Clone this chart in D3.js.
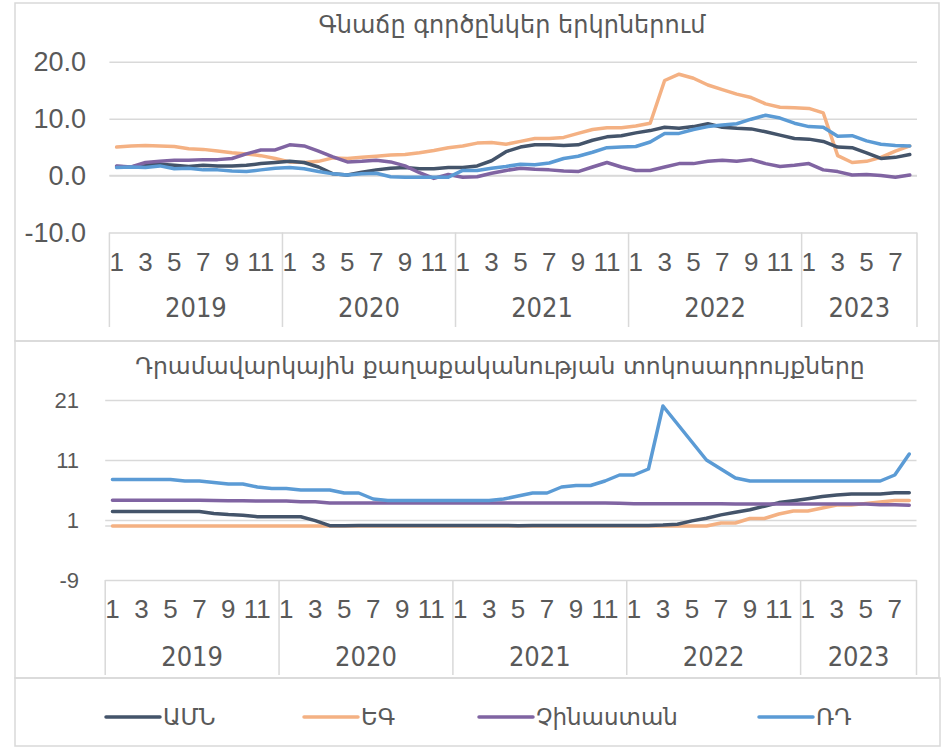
<!DOCTYPE html>
<html>
<head>
<meta charset="utf-8">
<script src="https://cdn.jsdelivr.net/npm/d3@7"></script>
<style>
body { margin: 0; background: #fff; }
text { font-family: "Liberation Sans Narrow", "DejaVu Sans Condensed", sans-serif; fill: #595959; }
.arm { font-family: "DejaVu Sans", sans-serif; }
</style>
</head>
<body>
<div id="chart"></div>
<script>
// categories
const years = ["2019", "2020", "2021", "2022", "2023"];
const monthsPerYear = [12, 12, 12, 12, 8];
const monthTicks = [1, 3, 5, 7, 9, 11];

const seriesNames = ["ԱՄՆ", "ԵԳ", "Չինաստան", "ՌԴ"];
const colors = ["#44546A", "#F4B183", "#8064A2", "#5B9BD5"];

// top panel: inflation
const inflTitle = "Գնաճը գործընկեր երկրներում";
const inflTicks = [-10, 0, 10, 20];
const inflUS = [1.6,1.5,1.9,2.0,1.8,1.6,1.8,1.7,1.7,1.8,2.1,2.3, 2.5,2.3,1.5,0.3,0.1,0.6,1.0,1.3,1.4,1.2,1.2,1.4,
  1.4,1.7,2.6,4.2,5.0,5.4,5.4,5.3,5.4,6.2,6.8,7.0, 7.5,7.9,8.5,8.3,8.6,9.1,8.5,8.3,8.2,7.7,7.1,6.5,
  6.4,6.0,5.0,4.9,4.0,3.0,3.2,3.7];
const inflEU = [5.0,5.2,5.3,5.2,5.1,4.7,4.6,4.3,4.0,3.8,3.5,3.0, 2.4,2.3,2.5,3.1,3.0,3.2,3.4,3.6,3.7,4.0,4.4,4.9,
  5.2,5.7,5.8,5.5,6.0,6.5,6.5,6.7,7.4,8.1,8.4,8.4, 8.7,9.2,16.7,17.8,17.1,15.9,15.1,14.3,13.7,12.6,12.0,11.9,
  11.8,11.0,3.5,2.3,2.5,3.2,4.3,5.2];
const inflCN = [1.7,1.5,2.3,2.5,2.7,2.7,2.8,2.8,3.0,3.8,4.5,4.5, 5.4,5.2,4.3,3.3,2.4,2.5,2.7,2.4,1.7,0.5,-0.5,0.2,
  -0.3,-0.2,0.4,0.9,1.3,1.1,1.0,0.8,0.7,1.5,2.3,1.5, 0.9,0.9,1.5,2.1,2.1,2.5,2.7,2.5,2.8,2.1,1.6,1.8,
  2.1,1.0,0.7,0.1,0.2,0.0,-0.3,0.1];
const inflRU = [1.4,1.5,1.4,1.7,1.2,1.3,1.0,1.0,0.8,0.7,1.0,1.3, 1.4,1.2,0.7,0.3,0.1,0.3,0.4,-0.2,-0.3,-0.3,-0.3,-0.3,
  0.9,0.9,1.3,1.6,2.0,1.9,2.2,3.0,3.4,4.1,4.9,5.0, 5.1,5.9,7.4,7.4,8.1,8.6,8.9,9.1,9.9,10.6,10.1,9.2,
  8.6,8.5,6.9,7.0,6.1,5.5,5.3,5.2];

// bottom panel: policy rates
const rateTitle = "Դրամավարկային քաղաքականության տոկոսադրույքները";
const rateTicks = [-9, 1, 11, 21];
const rateUS = [2.4,2.4,2.4,2.4,2.4,2.4,2.4,2.1,1.9,1.8,1.55,1.55, 1.55,1.55,0.9,0.05,0.05,0.08,0.09,0.1,0.09,0.09,0.09,0.09,
  0.09,0.08,0.07,0.07,0.06,0.08,0.1,0.09,0.08,0.08,0.08,0.08, 0.08,0.08,0.15,0.3,0.85,1.3,1.85,2.3,2.7,3.3,3.9,4.2,
  4.55,4.9,5.15,5.33,5.33,5.35,5.55,5.55];
const rateEU = [0,0,0,0,0,0,0,0,0,0,0,0, 0,0,0,0,0,0,0,0,0,0,0,0,
  0,0,0,0,0,0,0,0,0,0,0,0, 0,0,0,0,0,0,0.5,0.5,1.25,1.25,2.0,2.5,
  2.5,3.0,3.5,3.5,3.75,4.0,4.25,4.25];
const rateCN = [4.31,4.31,4.31,4.31,4.31,4.31,4.31,4.25,4.2,4.2,4.15,4.15, 4.15,4.05,4.05,3.85,3.85,3.85,3.85,3.85,3.85,3.85,3.85,3.85,
  3.85,3.85,3.85,3.85,3.85,3.85,3.85,3.85,3.85,3.85,3.85,3.8, 3.7,3.7,3.7,3.7,3.7,3.7,3.7,3.65,3.65,3.65,3.65,3.65,
  3.65,3.65,3.65,3.65,3.65,3.55,3.55,3.45];
const rateRU = [7.75,7.75,7.75,7.75,7.75,7.5,7.5,7.25,7.0,7.0,6.5,6.25, 6.25,6.0,6.0,6.0,5.5,5.5,4.5,4.25,4.25,4.25,4.25,4.25,
  4.25,4.25,4.25,4.5,5.0,5.5,5.5,6.5,6.75,6.75,7.5,8.5, 8.5,9.5,20,17,14,11,9.5,8,7.5,7.5,7.5,7.5,
  7.5,7.5,7.5,7.5,7.5,7.5,8.5,12];

const width = 944;
const height = 747;

// month index list built from the year groups
const cats = years.flatMap((y, yi) => d3.range(monthsPerYear[yi]).map(m => ({ year: y, month: m + 1 })));
cats.forEach((c, i) => c.i = i);

const hyphen = f => d => f(d).replace("−", "-");

const svg = d3.select("#chart")
    .append("svg")
    .attr("width", width)
    .attr("height", height);

function drawPanel(p) {
    const g = svg.append("g");

    // box
    g.append("rect")
        .attr("x", 15).attr("y", p.boxTop)
        .attr("width", 924).attr("height", p.boxBottom - p.boxTop)
        .attr("fill", "none").attr("stroke", "#d9d9d9").attr("stroke-width", 1.5);

    g.append("text")
        .attr("class", "arm")
        .attr("x", p.titleX).attr("y", p.titleY)
        .attr("text-anchor", "middle")
        .attr("dy", "0.35em")
        .attr("font-size", p.titleFont)
        .attr("fill", "#404040")
        .text(p.title);

    const x = d3.scaleBand()
        .domain(cats.map(c => c.i))
        .range([p.x0, p.x1]);

    const y = d3.scaleLinear()
        .domain(d3.extent(p.ticks))
        .range([p.yBottom, p.yTop]);

    // gridlines + y labels
    const yAxis = g.append("g")
        .attr("transform", `translate(${p.x0},0)`)
        .call(d3.axisLeft(y).tickValues(p.ticks).tickSize(-(p.x1 - p.x0)).tickPadding(p.x0 - p.yLabelX).tickFormat(p.fmt));
    yAxis.select(".domain").remove();
    yAxis.selectAll(".tick line").attr("stroke", "#d9d9d9").attr("stroke-width", 1.5);
    yAxis.selectAll(".tick text").attr("font-size", p.yFont).attr("fill", "#595959")
        .style("font-family", "'Liberation Sans Narrow', sans-serif");

    // horizontal axis line at zero
    g.append("line")
        .attr("x1", p.x0).attr("x2", p.x1)
        .attr("y1", y(0)).attr("y2", y(0))
        .attr("stroke", "#d9d9d9").attr("stroke-width", 1.5);

    // month labels
    const xAxis = g.append("g")
        .attr("transform", `translate(0,${p.monthY})`)
        .call(d3.axisBottom(x)
            .tickValues(cats.filter(c => monthTicks.includes(c.month)).map(c => c.i))
            .tickSize(0).tickPadding(0)
            .tickFormat(i => cats[i].month));
    xAxis.select(".domain").remove();
    xAxis.selectAll(".tick text").attr("dy", "0.35em").attr("y", 0)
        .attr("font-size", "26px").attr("fill", "#595959")
        .style("font-family", "'Liberation Sans Narrow', sans-serif");

    // year groups and separators
    let start = 0;
    const bounds = [];
    years.forEach((yr, yi) => {
        const end = start + monthsPerYear[yi];
        bounds.push({ year: yr, x0: x(start), x1: x(end - 1) + x.bandwidth() });
        start = end;
    });
    g.selectAll(".sep")
        .data([p.x0].concat(bounds.map(b => b.x1)))
        .join("line")
        .attr("x1", d => d).attr("x2", d => d)
        .attr("y1", p.yBottom).attr("y2", p.sepBottom)
        .attr("stroke", "#d9d9d9").attr("stroke-width", 1.5);
    g.selectAll(".yr")
        .data(bounds)
        .join("text")
        .attr("x", d => (d.x0 + d.x1) / 2)
        .attr("y", p.yearY)
        .attr("dy", "0.35em")
        .attr("text-anchor", "middle")
        .attr("font-size", "27px")
        .text(d => d.year);

    const line = d3.line()
        .x((d, i) => x(i) + x.bandwidth() / 2)
        .y(d => y(d));

    // draw order: EU, US, China, RU
    [1, 0, 2, 3].forEach(k => {
        g.append("path")
            .datum(p.series[k])
            .attr("d", line)
            .attr("fill", "none")
            .attr("stroke", colors[k])
            .attr("stroke-width", 3.5)
            .attr("stroke-linejoin", "round")
            .attr("stroke-linecap", "round");
    });
}

drawPanel({
    boxTop: 3, boxBottom: 341,
    title: inflTitle, titleX: 512, titleY: 25, titleFont: "24px",
    x0: 109.4, x1: 917,
    yTop: 61.7, yBottom: 232.5,
    ticks: inflTicks, fmt: hyphen(d3.format(".1f")), yFont: "27px", yLabelX: 86,
    monthY: 262, yearY: 308, sepBottom: 327,
    series: [inflUS, inflEU, inflCN, inflRU]
});

drawPanel({
    boxTop: 341, boxBottom: 678,
    title: rateTitle, titleX: 500, titleY: 366, titleFont: "23.5px",
    x0: 105.2, x1: 916.5,
    yTop: 400, yBottom: 580,
    ticks: rateTicks, fmt: hyphen(d3.format("d")), yFont: "22px", yLabelX: 79,
    monthY: 609, yearY: 657, sepBottom: 675,
    series: [rateUS, rateEU, rateCN, rateRU]
});

// legend
svg.append("rect")
    .attr("x", 15).attr("y", 678)
    .attr("width", 925).attr("height", 68)
    .attr("fill", "none").attr("stroke", "#d9d9d9").attr("stroke-width", 1.5);

const legendX = [106, 304, 479, 759];
const leg = svg.selectAll(".leg")
    .data(seriesNames)
    .join("g")
    .attr("transform", (d, i) => `translate(${legendX[i]},717)`);
leg.append("line")
    .attr("x1", 0).attr("x2", 54)
    .attr("stroke", (d, i) => colors[i])
    .attr("stroke-width", 3.5)
    .attr("stroke-linecap", "round");
leg.append("text")
    .attr("class", "arm")
    .attr("x", 57)
    .attr("dy", "0.35em")
    .attr("font-size", "23px")
    .attr("fill", "#404040")
    .text(d => d);
</script>
</body>
</html>
